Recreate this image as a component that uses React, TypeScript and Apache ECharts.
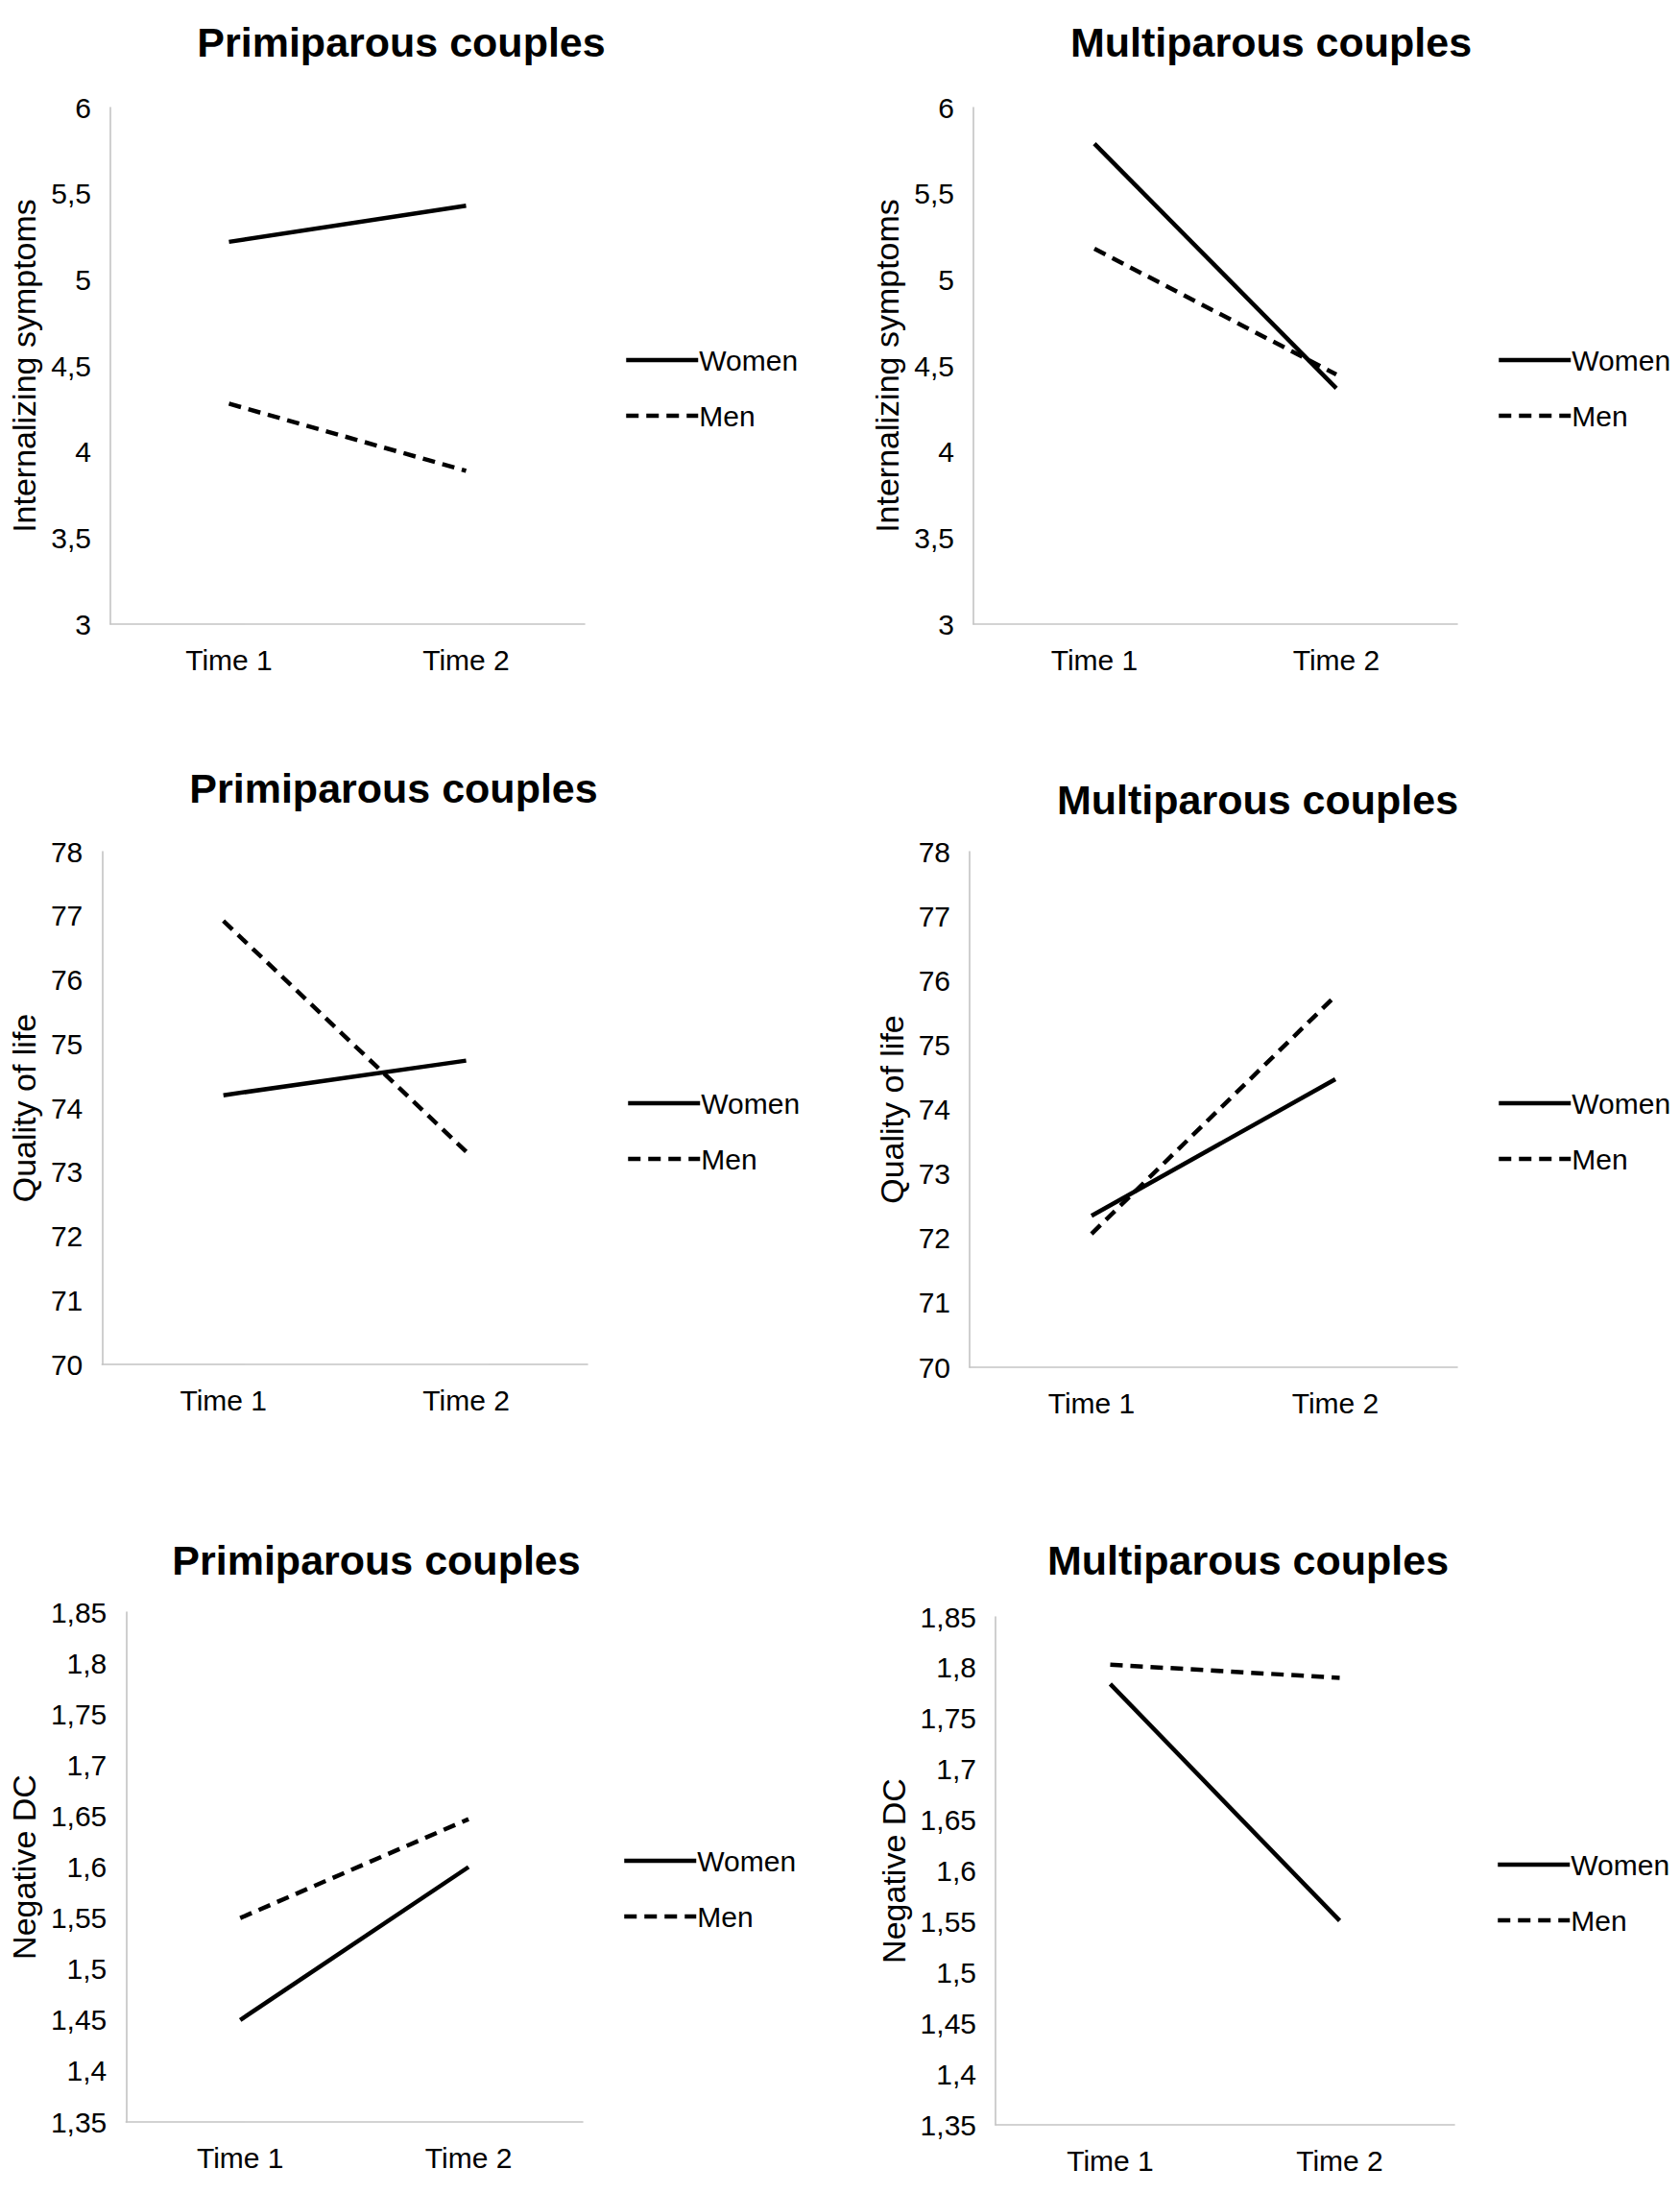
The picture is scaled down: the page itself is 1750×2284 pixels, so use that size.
import React, { useEffect, useRef } from "react";
import * as echarts from "echarts";

const categories = ["Time 1", "Time 2"];
const seriesNames = ["Women", "Men"];
const titles = ["Primiparous couples", "Multiparous couples"];
const yNames = ["Internalizing symptoms", "Quality of life", "Negative DC"];

const internPrimiWomen = [5.22, 5.43];
const internPrimiMen = [4.28, 3.89];
const internMultiWomen = [5.79, 4.37];
const internMultiMen = [5.18, 4.45];

const qolPrimiWomen = [74.2, 74.74];
const qolPrimiMen = [76.92, 73.32];
const qolMultiWomen = [72.35, 74.47];
const qolMultiMen = [72.07, 75.76];

const dcPrimiWomen = [1.45, 1.6];
const dcPrimiMen = [1.55, 1.647];
const dcMultiWomen = [1.784, 1.551];
const dcMultiMen = [1.803, 1.79];

const FONT = '"Liberation Sans", Arial, Helvetica, sans-serif';

type Panel = {
  x: number; y: number; w: number; h: number;
  title: string; titleX: number; titleY: number;
  grid: { left: number; top: number; width: number; height: number };
  legendX: number; legendY: number;
  yName: string; yNameX: number;
  min: number; max: number; interval: number;
  women: number[]; men: number[];
};

const panels: Panel[] = [
  { x: 0, y: 0, w: 875, h: 780, title: titles[0], titleX: 418, titleY: 44,
    grid: { left: 115, top: 112, width: 494, height: 538 }, legendX: 650, legendY: 375,
    yName: yNames[0], yNameX: 31, min: 3, max: 6, interval: 0.5,
    women: internPrimiWomen, men: internPrimiMen },
  { x: 875, y: 0, w: 875, h: 780, title: titles[1], titleX: 449, titleY: 44,
    grid: { left: 139, top: 112, width: 504, height: 538 }, legendX: 684, legendY: 375,
    yName: yNames[0], yNameX: 56, min: 3, max: 6, interval: 0.5,
    women: internMultiWomen, men: internMultiMen },
  { x: 0, y: 780, w: 875, h: 780, title: titles[0], titleX: 410, titleY: 41,
    grid: { left: 105, top: 107, width: 507, height: 534 }, legendX: 652, legendY: 369,
    yName: yNames[1], yNameX: 28, min: 70, max: 78, interval: 1,
    women: qolPrimiWomen, men: qolPrimiMen },
  { x: 875, y: 780, w: 875, h: 780, title: titles[1], titleX: 435, titleY: 53,
    grid: { left: 135, top: 107, width: 508, height: 537 }, legendX: 684, legendY: 369,
    yName: yNames[1], yNameX: 56, min: 70, max: 78, interval: 1,
    women: qolMultiWomen, men: qolMultiMen },
  { x: 0, y: 1560, w: 875, h: 724, title: titles[0], titleX: 392, titleY: 65,
    grid: { left: 128, top: 119, width: 479, height: 531 }, legendX: 648, legendY: 378,
    yName: yNames[2], yNameX: 25, min: 1.35, max: 1.85, interval: 0.05,
    women: dcPrimiWomen, men: dcPrimiMen },
  { x: 875, y: 1560, w: 875, h: 724, title: titles[1], titleX: 425, titleY: 65,
    grid: { left: 162, top: 124, width: 478, height: 529 }, legendX: 683, legendY: 382,
    yName: yNames[2], yNameX: 62, min: 1.35, max: 1.85, interval: 0.05,
    women: dcMultiWomen, men: dcMultiMen },
];

const fmt = (v: number) => String(parseFloat(v.toFixed(2))).replace(".", ",");

function Chart({ p }: { p: Panel }) {
  const ref = useRef<HTMLDivElement>(null);
  useEffect(() => {
    if (!ref.current) return;
    const chart = echarts.init(ref.current, undefined, { renderer: "svg" });
    const axisLine = { show: true, lineStyle: { color: "#c4c4c4", width: 1.6 } };
    chart.setOption({
      animation: false,
      backgroundColor: "#ffffff",
      textStyle: { fontFamily: FONT },
      graphic: [
        {
          type: "text",
          x: p.titleX,
          y: p.titleY,
          style: {
            text: p.title,
            fontFamily: FONT,
            fontWeight: "bold",
            fontSize: 43,
            fill: "#000",
            align: "center",
            verticalAlign: "middle",
            textAlign: "center",
            textVerticalAlign: "middle",
          },
        },
      ],
      grid: { left: p.grid.left, top: p.grid.top, width: p.grid.width, height: p.grid.height, containLabel: false },
      legend: {
        orient: "vertical",
        left: p.legendX,
        top: p.legendY - 15,
        padding: 0,
        itemWidth: 75,
        itemHeight: 1,
        itemGap: 28,
        selectedMode: false,
        data: seriesNames,
        itemStyle: { opacity: 0, borderWidth: 0 },
        lineStyle: { width: 4.5, cap: "butt" },
        textStyle: { fontSize: 30, lineHeight: 30, color: "#000", fontFamily: FONT, padding: [0, 0, 0, -4] },
      },
      xAxis: {
        type: "category",
        data: categories,
        boundaryGap: true,
        axisLine,
        axisTick: { show: false },
        splitLine: { show: false },
        axisLabel: { fontSize: 30, color: "#000", margin: 22, fontFamily: FONT },
      },
      yAxis: {
        type: "value",
        min: p.min,
        max: p.max,
        interval: p.interval,
        name: p.yName,
        nameLocation: "middle",
        nameGap: p.grid.left - p.yNameX - 17,
        nameTextStyle: { fontSize: 34, color: "#000", fontFamily: FONT },
        axisLine,
        axisTick: { show: false },
        splitLine: { show: false },
        axisLabel: { fontSize: 30, color: "#000", margin: 20, fontFamily: FONT, formatter: fmt },
      },
      series: [
        {
          name: seriesNames[0],
          type: "line",
          data: p.women,
          symbol: "none",
          silent: true,
          itemStyle: { color: "#000" },
          lineStyle: { color: "#000", width: 4.5, type: "solid", cap: "butt" },
        },
        {
          name: seriesNames[1],
          type: "line",
          data: p.men,
          symbol: "none",
          silent: true,
          itemStyle: { color: "#000" },
          lineStyle: { color: "#000", width: 4.5, type: [13, 8], cap: "butt" },
        },
      ],
    });
    return () => chart.dispose();
  }, [p]);
  return (
    <div
      ref={ref}
      style={{ position: "absolute", left: p.x, top: p.y, width: p.w, height: p.h }}
    />
  );
}

export default function App() {
  useEffect(() => {
    document.body.style.margin = "0";
    document.body.style.background = "#fff";
  }, []);
  return (
    <div style={{ position: "relative", width: 1750, height: 2284, background: "#fff" }}>
      {panels.map((p, i) => (
        <Chart key={i} p={p} />
      ))}
    </div>
  );
}
